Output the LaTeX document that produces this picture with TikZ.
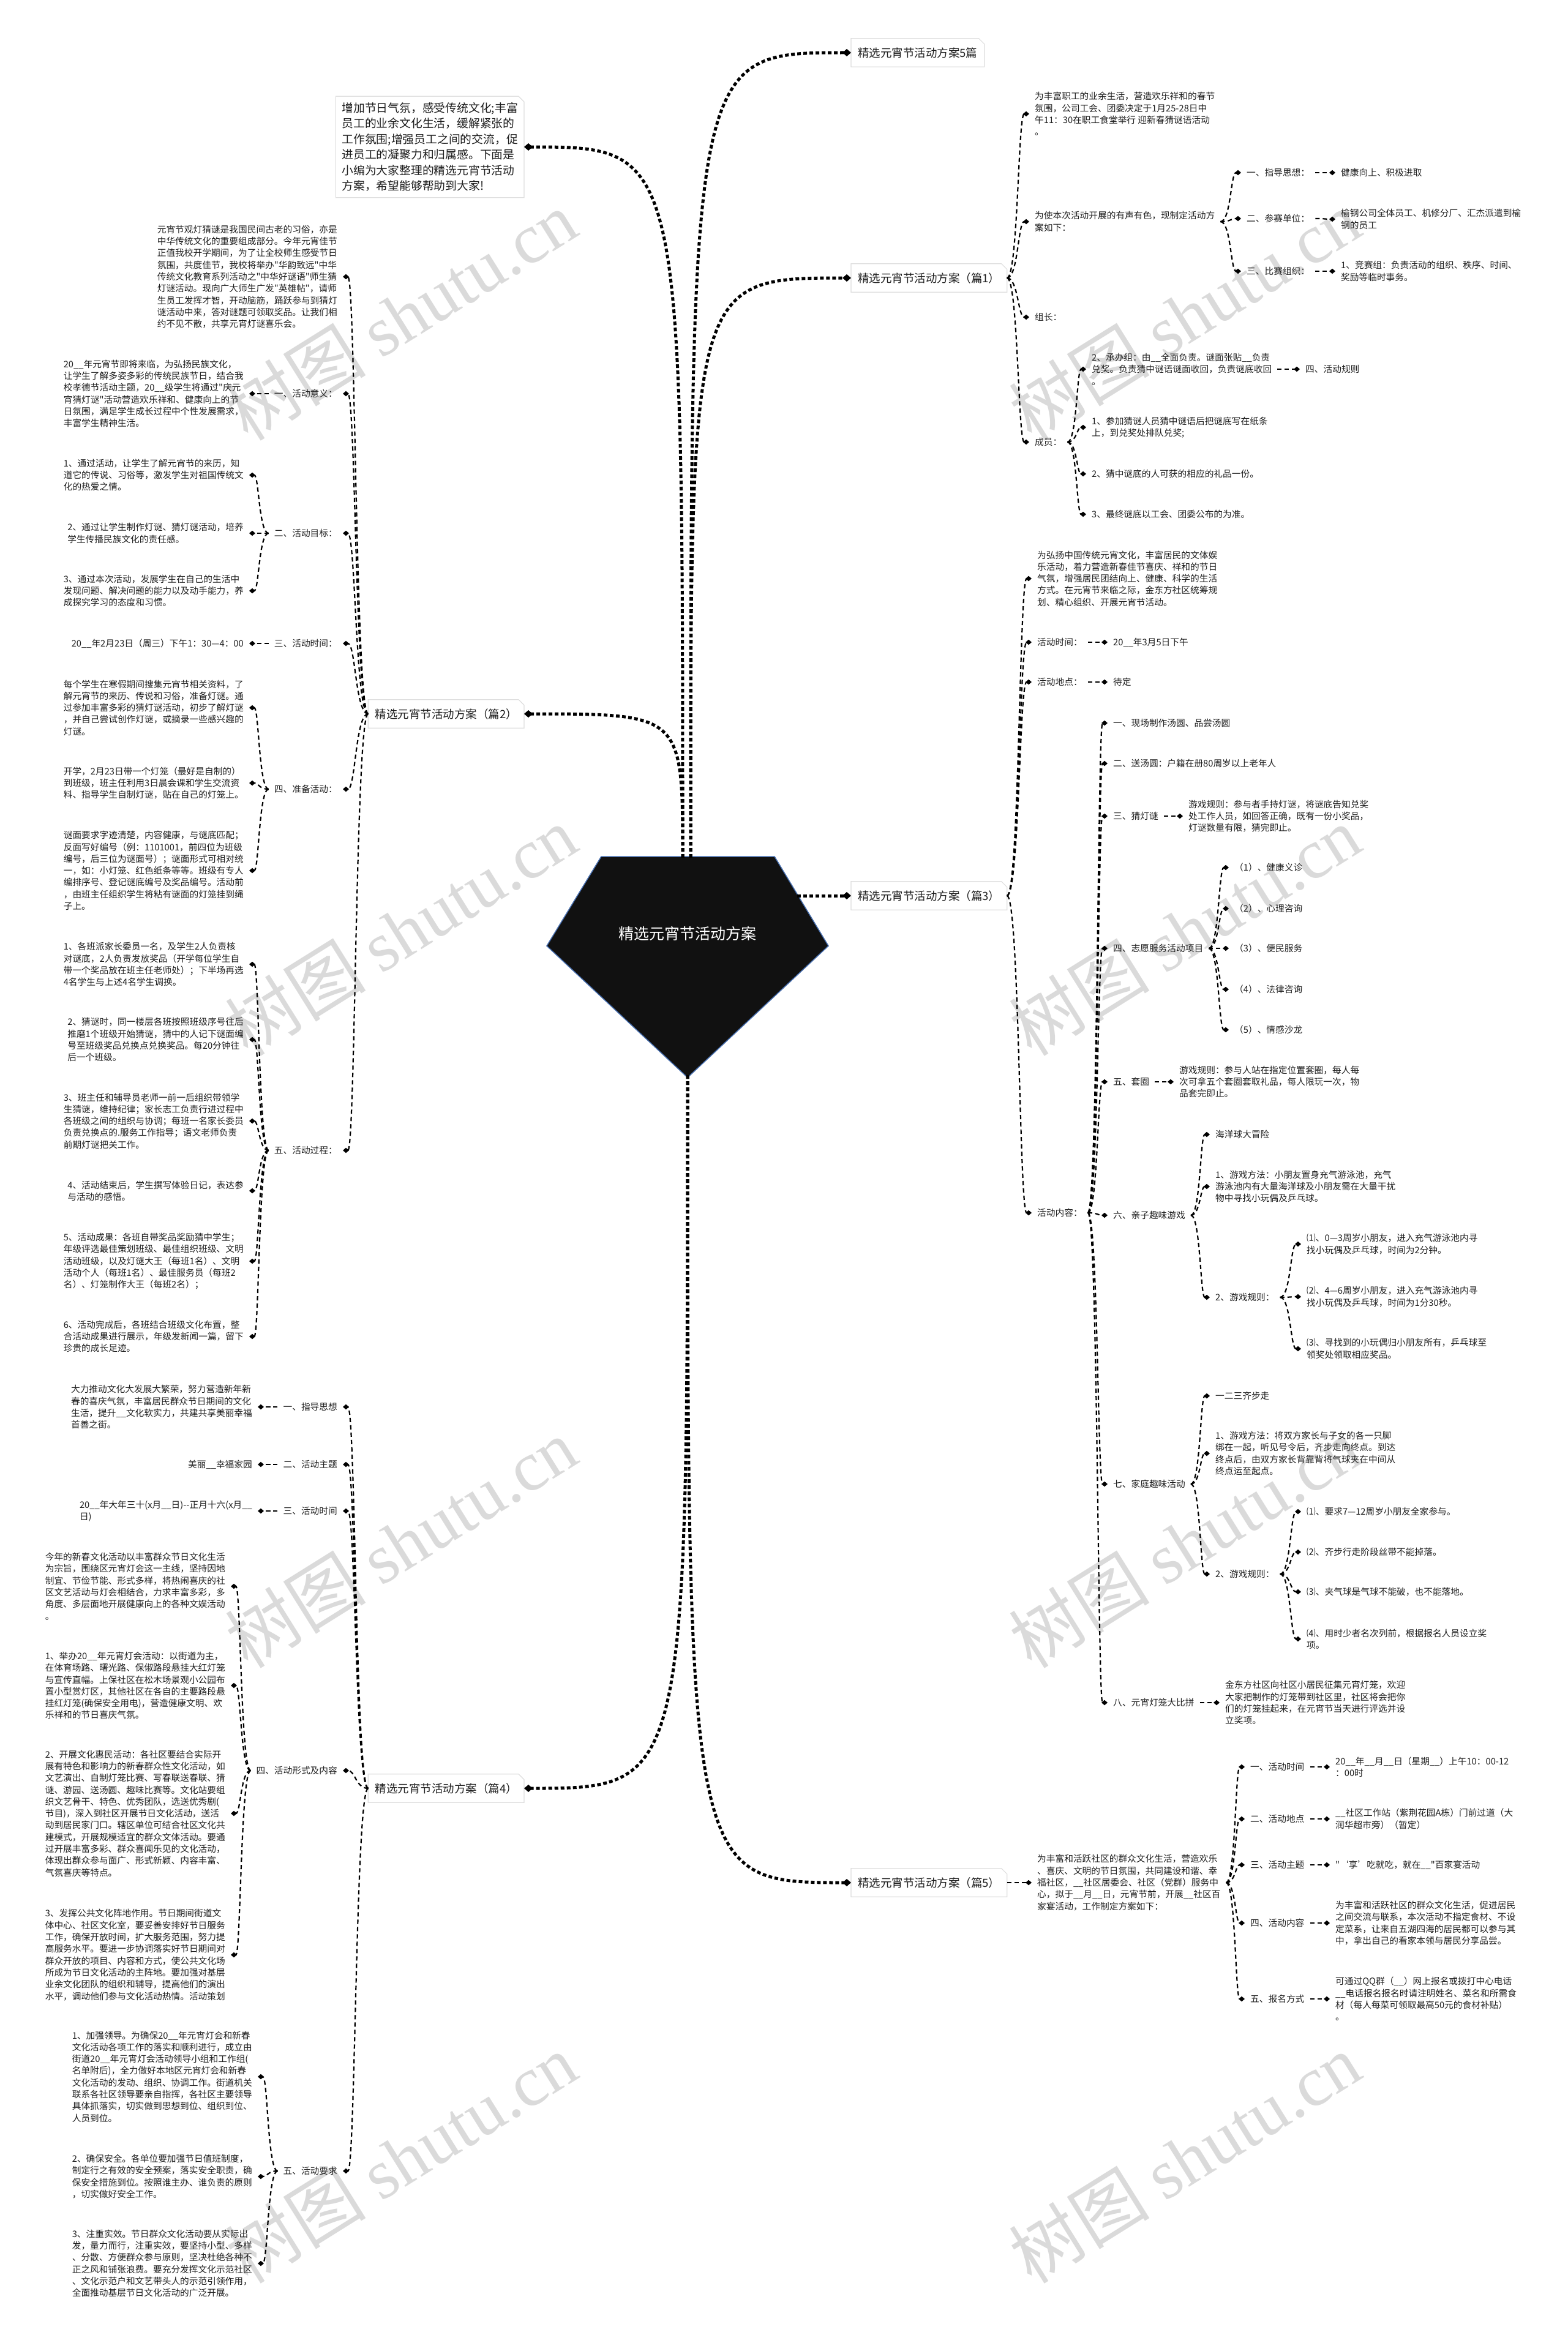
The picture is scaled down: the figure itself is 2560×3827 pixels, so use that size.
\documentclass[tikz,border=0pt]{standalone}
\usepackage{fontspec}
\setmainfont{Noto Sans CJK SC}
\newfontfamily\zh{Noto Sans CJK SC}
\newfontfamily\wmf{Liberation Serif}
\usetikzlibrary{arrows.meta,calc}
\definecolor{txt}{RGB}{30,30,30}
\definecolor{wm}{RGB}{218,218,218}
\definecolor{bxl}{RGB}{222,222,222}
\definecolor{rootc}{RGB}{17,17,17}
\definecolor{rootb}{RGB}{70,110,175}
\tikzset{
  tx/.style={font=\zh\fontsize{14.7}{19.3}\selectfont, align=left, inner xsep=9pt, inner ysep=1pt, text=txt},
  nl/.style={tx, anchor=east},
  nr/.style={tx, anchor=west},
  lvone/.style={font=\zh\fontsize{18.5}{22}\selectfont, inner xsep=11pt, inner ysep=0pt, minimum height=46pt, text=txt},
  cn/.style={draw=black, line width=2.2pt, dash pattern=on 7pt off 5pt, -{Diamond[length=10pt,width=8.5pt]}},
  rc/.style={draw=black, line width=5pt, dash pattern=on 6pt off 4pt, -{Diamond[length=14pt,width=12pt]}},
  cv/.style={to path={let \p1=(\tikztostart), \p2=(\tikztotarget) in .. controls ({(\x1+\x2)/2},\y1) and ({(\x1+\x2)/2},\y2) .. (\tikztotarget)}},
  rcv/.style={to path={let \p1=(\tikztostart), \p2=(\tikztotarget) in .. controls (\x1,\y2) and (\x1,\y2) .. (\tikztotarget)}},
  boxln/.style={draw=bxl, line width=1.2pt},
}
\newcommand\dogear[1]{\draw[boxln] (#1.south west) -- (#1.north west) -- ([xshift=-9pt]#1.north east) -- ([yshift=-9pt]#1.north east) -- (#1.south east) -- cycle;}
\begin{document}
\begin{tikzpicture}[x=1pt,y=-1pt]
\fill[white] (0,0) rectangle (2560,3827);
\useasboundingbox (0,0) rectangle (2560,3827);

% watermarks
\foreach \wx/\wy in {655/515,1935/515,655/1520,1935/1520,655/2520,1935/2520,655/3525,1935/3525}{
  \node[text=wm, rotate=32, font=\fontsize{115}{120}\selectfont, inner sep=0pt] (wm\wx-\wy) at (\wx,\wy) {{\zh 树图} {\wmf shutu.cn}};
}

% root
\fill[fill=rootc, draw=rootb, line width=1.5pt] (982,1399) -- (1265,1399) -- (1353,1545) -- (1123,1760) -- (893,1545) -- cycle;
\node[font=\zh\fontsize{25}{30}\selectfont, text=white] (root) at (1123,1525) {精选元宵节活动方案};
\coordinate (rtl) at (1115,1401);
\coordinate (rtr) at (1128,1401);
\coordinate (rrt) at (1302,1463);
\coordinate (rbt) at (1123,1756);

% level one
\node[lvone, anchor=west] (s0) at (1390,86) {精选元宵节活动方案5篇};
\node[lvone, anchor=west] (s1) at (1390,454) {精选元宵节活动方案（篇1）};
\node[lvone, anchor=east] (s2) at (856,1166) {精选元宵节活动方案（篇2）};
\node[lvone, anchor=west] (s3) at (1390,1463) {精选元宵节活动方案（篇3）};
\node[lvone, anchor=east] (s4) at (856,2921) {精选元宵节活动方案（篇4）};
\node[lvone, anchor=west] (s5) at (1390,3075) {精选元宵节活动方案（篇5）};
\node[font=\zh\fontsize{18.8}{25.4}\selectfont, align=left, inner xsep=10pt, inner ysep=10pt, text=txt, anchor=east] (intro) at (856,240) {增加节日气氛，感受传统文化;丰富\\员工的业余文化生活，缓解紧张的\\工作氛围;增强员工之间的交流，促\\进员工的凝聚力和归属感。下面是\\小编为大家整理的精选元宵节活动\\方案，希望能够帮助到大家!};
\dogear{s0}\dogear{s1}\dogear{s2}\dogear{s3}\dogear{s4}\dogear{s5}\dogear{intro}

\draw[rc] (rtr) to[rcv] (s0.west);
\draw[rc] (rtr) to[rcv] (s1.west);
\draw[rc] (rtl) to[rcv] (intro.east);
\draw[rc] (rtl) to[rcv] (s2.east);
\draw[rc] (rrt) -- (s3.west);
\draw[rc] (rbt) to[rcv] (s4.east);
\draw[rc] (rbt) to[rcv] (s5.west);

% ===== section 2 (left)
\node[nl] (a0) at (560,452) {元宵节观灯猜谜是我国民间古老的习俗，亦是\\中华传统文化的重要组成部分。今年元宵佳节\\正值我校开学期间，为了让全校师生感受节日\\氛围，共度佳节，我校将举办"华韵致远"中华\\传统文化教育系列活动之"中华好谜语"师生猜\\灯谜活动。现向广大师生广发"英雄帖"，请师\\生员工发挥才智，开动脑筋，踊跃参与到猜灯\\谜活动中来，答对谜题可领取奖品。让我们相\\约不见不散，共享元宵灯谜喜乐会。};
\node[nl] (a1) at (560,643) {一、活动意义：};
\node[nl] (a2) at (560,871) {二、活动目标：};
\node[nl] (a3) at (560,1051) {三、活动时间：};
\node[nl] (a4) at (560,1289) {四、准备活动：};
\node[nl] (a5) at (560,1879) {五、活动过程：};
\node[nl] (a1c) at (407,643) {20\_\_年元宵节即将来临，为弘扬民族文化，\\让学生了解多姿多彩的传统民族节日，结合我\\校孝德节活动主题，20\_\_级学生将通过"庆元\\宵猜灯谜"活动营造欢乐祥和、健康向上的节\\日氛围，满足学生成长过程中个性发展需求，\\丰富学生精神生活。};
\node[nl] (a2c1) at (407,776) {1、通过活动，让学生了解元宵节的来历，知\\道它的传说、习俗等，激发学生对祖国传统文\\化的热爱之情。};
\node[nl] (a2c2) at (407,871) {2、通过让学生制作灯谜、猜灯谜活动，培养\\学生传播民族文化的责任感。};
\node[nl] (a2c3) at (407,965) {3、通过本次活动，发展学生在自己的生活中\\发现问题、解决问题的能力以及动手能力，养\\成探究学习的态度和习惯。};
\node[nl] (a3c) at (407,1051) {20\_\_年2月23日（周三）下午1：30—4：00};
\node[nl] (a4c1) at (407,1156) {每个学生在寒假期间搜集元宵节相关资料，了\\解元宵节的来历、传说和习俗，准备灯谜。通\\过参加丰富多彩的猜灯谜活动，初步了解灯谜\\，并自己尝试创作灯谜，或摘录一些感兴趣的\\灯谜。};
\node[nl] (a4c2) at (407,1279) {开学，2月23日带一个灯笼（最好是自制的）\\到班级，班主任利用3日晨会课和学生交流资\\料、指导学生自制灯谜，贴在自己的灯笼上。};
\node[nl] (a4c3) at (407,1422) {谜面要求字迹清楚，内容健康，与谜底匹配；\\反面写好编号（例：1101001，前四位为班级\\编号，后三位为谜面号）；谜面形式可相对统\\一，如：小灯笼、红色纸条等等。班级有专人\\编排序号、登记谜底编号及奖品编号。活动前\\，由班主任组织学生将粘有谜面的灯笼挂到绳\\子上。};
\node[nl] (a5c1) at (407,1575) {1、各班派家长委员一名，及学生2人负责核\\对谜底，2人负责发放奖品（开学每位学生自\\带一个奖品放在班主任老师处）；下半场再选\\4名学生与上述4名学生调换。};
\node[nl] (a5c2) at (407,1698) {2、猜谜时，同一楼层各班按照班级序号往后\\推磨1个班级开始猜谜，猜中的人记下谜面编\\号至班级奖品兑换点兑换奖品。每20分钟往\\后一个班级。};
\node[nl] (a5c3) at (407,1831) {3、班主任和辅导员老师一前一后组织带领学\\生猜谜，维持纪律；家长志工负责行进过程中\\各班级之间的组织与协调；每班一名家长委员\\负责兑换点的.服务工作指导；语文老师负责\\前期灯谜把关工作。};
\node[nl] (a5c4) at (407,1945) {4、活动结束后，学生撰写体验日记，表达参\\与活动的感悟。};
\node[nl] (a5c5) at (407,2060) {5、活动成果：各班自带奖品奖励猜中学生；\\年级评选最佳策划班级、最佳组织班级、文明\\活动班级，以及灯谜大王（每班1名）、文明\\活动个人（每班1名）、最佳服务员（每班2\\名）、灯笼制作大王（每班2名）；};
\node[nl] (a5c6) at (407,2183) {6、活动完成后，各班结合班级文化布置，整\\合活动成果进行展示，年级发新闻一篇，留下\\珍贵的成长足迹。};
\foreach \c in {a0,a1,a2,a3,a4,a5}{\draw[cn] (s2.west) to[cv] (\c.east);}
\draw[cn] (a1.west) to[cv] (a1c.east);
\foreach \c in {a2c1,a2c2,a2c3}{\draw[cn] (a2.west) to[cv] (\c.east);}
\draw[cn] (a3.west) to[cv] (a3c.east);
\foreach \c in {a4c1,a4c2,a4c3}{\draw[cn] (a4.west) to[cv] (\c.east);}
\foreach \c in {a5c1,a5c2,a5c3,a5c4,a5c5,a5c6}{\draw[cn] (a5.west) to[cv] (\c.east);}

% ===== section 4 (left)
\node[nl] (b1) at (560,2298) {一、指导思想};
\node[nl] (b2) at (560,2392) {二、活动主题};
\node[nl] (b3) at (560,2468) {三、活动时间};
\node[nl] (b4) at (560,2892) {四、活动形式及内容};
\node[nl] (b5) at (560,3546) {五、活动要求};
\node[nl] (b1c) at (421,2298) {大力推动文化大发展大繁荣，努力营造新年新\\春的喜庆气氛，丰富居民群众节日期间的文化\\生活，提升\_\_文化软实力，共建共享美丽幸福\\首善之街。};
\node[nl] (b2c) at (421,2392) {美丽\_\_幸福家园};
\node[nl] (b3c) at (421,2468) {20\_\_年大年三十(x月\_\_日)--正月十六(x月\_\_\\日)};
\node[nl] (b4c1) at (377,2591) {今年的新春文化活动以丰富群众节日文化生活\\为宗旨，围绕区元宵灯会这一主线，坚持因地\\制宜、节俭节能、形式多样，将热闹喜庆的社\\区文艺活动与灯会相结合，力求丰富多彩，多\\角度、多层面地开展健康向上的各种文娱活动\\。};
\node[nl] (b4c2) at (377,2753) {1、举办20\_\_年元宵灯会活动：以街道为主，\\在体育场路、曙光路、保俶路段悬挂大红灯笼\\与宣传直幅。上保社区在松木场景观小公园布\\置小型赏灯区，其他社区在各自的主要路段悬\\挂红灯笼(确保安全用电)，营造健康文明、欢\\乐祥和的节日喜庆气氛。};
\node[nl] (b4c3) at (377,2962) {2、开展文化惠民活动：各社区要结合实际开\\展有特色和影响力的新春群众性文化活动，如\\文艺演出、自制灯笼比赛、写春联送春联、猜\\谜、游园、送汤圆、趣味比赛等。文化站要组\\织文艺骨干、特色、优秀团队，选送优秀剧(\\节目)，深入到社区开展节日文化活动，送活\\动到居民家门口。辖区单位可结合社区文化共\\建模式，开展规模适宜的群众文体活动。要通\\过开展丰富多彩、群众喜闻乐见的文化活动，\\体现出群众参与面广、形式新颖、内容丰富、\\气氛喜庆等特点。};
\node[nl] (b4c4) at (377,3193) {3、发挥公共文化阵地作用。节日期间街道文\\体中心、社区文化室，要妥善安排好节日服务\\工作，确保开放时间，扩大服务范围，努力提\\高服务水平。要进一步协调落实好节日期间对\\群众开放的项目、内容和方式，使公共文化场\\所成为节日文化活动的主阵地。要加强对基层\\业余文化团队的组织和辅导，提高他们的演出\\水平，调动他们参与文化活动热情。活动策划};
\node[nl] (b5c1) at (421,3392) {1、加强领导。为确保20\_\_年元宵灯会和新春\\文化活动各项工作的落实和顺利进行，成立由\\街道20\_\_年元宵灯会活动领导小组和工作组(\\名单附后)，全力做好本地区元宵灯会和新春\\文化活动的发动、组织、协调工作。街道机关\\联系各社区领导要亲自指挥，各社区主要领导\\具体抓落实，切实做到思想到位、组织到位、\\人员到位。};
\node[nl] (b5c2) at (421,3555) {2、确保安全。各单位要加强节日值班制度，\\制定行之有效的安全预案，落实安全职责，确\\保安全措施到位。按照谁主办、谁负责的原则\\，切实做好安全工作。};
\node[nl] (b5c3) at (421,3697) {3、注重实效。节日群众文化活动要从实际出\\发，量力而行，注重实效，要坚持小型、多样\\、分散、方便群众参与原则，坚决杜绝各种不\\正之风和铺张浪费。要充分发挥文化示范社区\\、文化示范户和文艺带头人的示范引领作用，\\全面推动基层节日文化活动的广泛开展。};
\foreach \c in {b1,b2,b3,b4,b5}{\draw[cn] (s4.west) to[cv] (\c.east);}
\draw[cn] (b1.west) to[cv] (b1c.east);
\draw[cn] (b2.west) to[cv] (b2c.east);
\draw[cn] (b3.west) to[cv] (b3c.east);
\foreach \c in {b4c1,b4c2,b4c3,b4c4}{\draw[cn] (b4.west) to[cv] (\c.east);}
\foreach \c in {b5c1,b5c2,b5c3}{\draw[cn] (b5.west) to[cv] (\c.east);}

% ===== section 1 (right)
\node[nr] (c1) at (1681,186) {为丰富职工的业余生活，营造欢乐祥和的春节\\氛围，公司工会、团委决定于1月25-28日中\\午11：30在职工食堂举行 迎新春猜谜语活动\\。};
\node[nr] (c2) at (1681,362) {为使本次活动开展的有声有色，现制定活动方\\案如下：};
\node[nr] (c3) at (1681,518) {组长：};
\node[nr] (c4) at (1681,722) {成员：};
\node[nr] (c21) at (2027,282) {一、指导思想：};
\node[nr] (c22) at (2027,357) {二、参赛单位：};
\node[nr] (c23) at (2027,443) {三、比赛组织：};
\node[nr] (c21c) at (2181,282) {健康向上、积极进取};
\node[nr] (c22c) at (2181,358) {榆钢公司全体员工、机修分厂、汇杰派遣到榆\\钢的员工};
\node[nr] (c23c) at (2181,443) {1、竞赛组：负责活动的组织、秩序、时间、\\奖励等临时事务。};
\node[nr] (c41) at (1774,603) {2、承办组：由\_\_全面负责。谜面张贴\_\_负责\\兑奖。负责猜中谜语谜面收回，负责谜底收回\\。};
\node[nr] (c41c) at (2123,603) {四、活动规则};
\node[nr] (c42) at (1774,698) {1、参加猜谜人员猜中谜语后把谜底写在纸条\\上，到兑奖处排队兑奖;};
\node[nr] (c43) at (1774,774) {2、猜中谜底的人可获的相应的礼品一份。};
\node[nr] (c44) at (1774,840) {3、最终谜底以工会、团委公布的为准。};
\foreach \c in {c1,c2,c3,c4}{\draw[cn] (s1.east) to[cv] (\c.west);}
\foreach \c in {c21,c22,c23}{\draw[cn] (c2.east) to[cv] (\c.west);}
\draw[cn] (c21.east) to[cv] (c21c.west);
\draw[cn] (c22.east) to[cv] (c22c.west);
\draw[cn] (c23.east) to[cv] (c23c.west);
\foreach \c in {c41,c42,c43,c44}{\draw[cn] (c4.east) to[cv] (\c.west);}
\draw[cn] (c41.east) to[cv] (c41c.west);

% ===== section 3 (right)
\node[nr] (d1) at (1685,945) {为弘扬中国传统元宵文化，丰富居民的文体娱\\乐活动，着力营造新春佳节喜庆、祥和的节日\\气氛，增强居民团结向上、健康、科学的生活\\方式。在元宵节来临之际，金东方社区统筹规\\划、精心组织、开展元宵节活动。};
\node[nr] (d2) at (1685,1049) {活动时间：};
\node[nr] (d3) at (1685,1114) {活动地点：};
\node[nr] (d4) at (1685,1981) {活动内容：};
\node[nr] (d2c) at (1809,1049) {20\_\_年3月5日下午};
\node[nr] (d3c) at (1809,1114) {待定};
\node[nr] (d41) at (1809,1181) {一、现场制作汤圆、品尝汤圆};
\node[nr] (d42) at (1809,1247) {二、送汤圆：户籍在册80周岁以上老年人};
\node[nr] (d43) at (1809,1333) {三、猜灯谜};
\node[nr] (d43c) at (1932,1333) {游戏规则：参与者手持灯谜，将谜底告知兑奖\\处工作人员，如回答正确，既有一份小奖品，\\灯谜数量有限，猜完即止。};
\node[nr] (d44) at (1809,1549) {四、志愿服务活动项目};
\node[nr] (d441) at (2007,1417) {（1）、健康义诊};
\node[nr] (d442) at (2007,1484) {（2）、心理咨询};
\node[nr] (d443) at (2007,1549) {（3）、便民服务};
\node[nr] (d444) at (2007,1616) {（4）、法律咨询};
\node[nr] (d445) at (2007,1682) {（5）、情感沙龙};
\node[nr] (d45) at (1809,1767) {五、套圈};
\node[nr] (d45c) at (1917,1767) {游戏规则：参与人站在指定位置套圈，每人每\\次可拿五个套圈套取礼品，每人限玩一次，物\\品套完即止。};
\node[nr] (d46) at (1809,1985) {六、亲子趣味游戏};
\node[nr] (d461) at (1976,1853) {海洋球大冒险};
\node[nr] (d462) at (1976,1938) {1、游戏方法：小朋友置身充气游泳池，充气\\游泳池内有大量海洋球及小朋友需在大量干扰\\物中寻找小玩偶及乒乓球。};
\node[nr] (d463) at (1976,2119) {2、游戏规则：};
\node[nr] (d4631) at (2125,2032) {⑴、0—3周岁小朋友，进入充气游泳池内寻\\找小玩偶及乒乓球，时间为2分钟。};
\node[nr] (d4632) at (2125,2118) {⑵、4—6周岁小朋友，进入充气游泳池内寻\\找小玩偶及乒乓球，时间为1分30秒。};
\node[nr] (d4633) at (2125,2203) {⑶、寻找到的小玩偶归小朋友所有，乒乓球至\\领奖处领取相应奖品。};
\node[nr] (d47) at (1809,2424) {七、家庭趣味活动};
\node[nr] (d471) at (1976,2280) {一二三齐步走};
\node[nr] (d472) at (1976,2374) {1、游戏方法：将双方家长与子女的各一只脚\\绑在一起，听见号令后，齐步走向终点。到达\\终点后，由双方家长背靠背将气球夹在中间从\\终点运至起点。};
\node[nr] (d473) at (1976,2571) {2、游戏规则：};
\node[nr] (d4731) at (2125,2469) {⑴、要求7—12周岁小朋友全家参与。};
\node[nr] (d4732) at (2125,2535) {⑵、齐步行走阶段丝带不能掉落。};
\node[nr] (d4733) at (2125,2600) {⑶、夹气球是气球不能破，也不能落地。};
\node[nr] (d4734) at (2125,2677) {⑷、用时少者名次列前，根据报名人员设立奖\\项。};
\node[nr] (d48) at (1809,2781) {八、元宵灯笼大比拼};
\node[nr] (d48c) at (1992,2781) {金东方社区向社区小居民征集元宵灯笼，欢迎\\大家把制作的灯笼带到社区里，社区将会把你\\们的灯笼挂起来，在元宵节当天进行评选并设\\立奖项。};
\foreach \c in {d1,d2,d3,d4}{\draw[cn] (s3.east) to[cv] (\c.west);}
\draw[cn] (d2.east) to[cv] (d2c.west);
\draw[cn] (d3.east) to[cv] (d3c.west);
\foreach \c in {d41,d42,d43,d44,d45,d46,d47,d48}{\draw[cn] (d4.east) to[cv] (\c.west);}
\draw[cn] (d43.east) to[cv] (d43c.west);
\foreach \c in {d441,d442,d443,d444,d445}{\draw[cn] (d44.east) to[cv] (\c.west);}
\draw[cn] (d45.east) to[cv] (d45c.west);
\foreach \c in {d461,d462,d463}{\draw[cn] (d46.east) to[cv] (\c.west);}
\foreach \c in {d4631,d4632,d4633}{\draw[cn] (d463.east) to[cv] (\c.west);}
\foreach \c in {d471,d472,d473}{\draw[cn] (d47.east) to[cv] (\c.west);}
\foreach \c in {d4731,d4732,d4733,d4734}{\draw[cn] (d473.east) to[cv] (\c.west);}
\draw[cn] (d48.east) to[cv] (d48c.west);

% ===== section 5 (right)
\node[nr] (e1) at (1685,3075) {为丰富和活跃社区的群众文化生活，营造欢乐\\、喜庆、文明的节日氛围，共同建设和谐、幸\\福社区，\_\_社区居委会、社区（党群）服务中\\心，拟于\_\_月\_\_日，元宵节前，开展\_\_社区百\\家宴活动，工作制定方案如下：};
\node[nr] (e11) at (2033,2886) {一、活动时间};
\node[nr] (e12) at (2033,2971) {二、活动地点};
\node[nr] (e13) at (2033,3046) {三、活动主题};
\node[nr] (e14) at (2033,3141) {四、活动内容};
\node[nr] (e15) at (2033,3265) {五、报名方式};
\node[nr] (e11c) at (2172,2886) {20\_\_年\_\_月\_\_日（星期\_\_）上午10：00-12\\：00时};
\node[nr] (e12c) at (2172,2971) {\_\_社区工作站（紫荆花园A栋）门前过道（大\\润华超市旁）（暂定）};
\node[nr] (e13c) at (2172,3046) {"‘享’吃就吃，就在\_\_"百家宴活动};
\node[nr] (e14c) at (2172,3141) {为丰富和活跃社区的群众文化生活，促进居民\\之间交流与联系，本次活动不指定食材、不设\\定菜系，让来自五湖四海的居民都可以参与其\\中，拿出自己的看家本领与居民分享品尝。};
\node[nr] (e15c) at (2172,3265) {可通过QQ群（\_\_）网上报名或拨打中心电话\\\_\_电话报名报名时请注明姓名、菜名和所需食\\材（每人每菜可领取最高50元的食材补贴）\\。};
\draw[cn] (s5.east) to[cv] (e1.west);
\foreach \c in {e11,e12,e13,e14,e15}{\draw[cn] (e1.east) to[cv] (\c.west);}
\draw[cn] (e11.east) to[cv] (e11c.west);
\draw[cn] (e12.east) to[cv] (e12c.west);
\draw[cn] (e13.east) to[cv] (e13c.west);
\draw[cn] (e14.east) to[cv] (e14c.west);
\draw[cn] (e15.east) to[cv] (e15c.west);
\end{tikzpicture}
\end{document}
